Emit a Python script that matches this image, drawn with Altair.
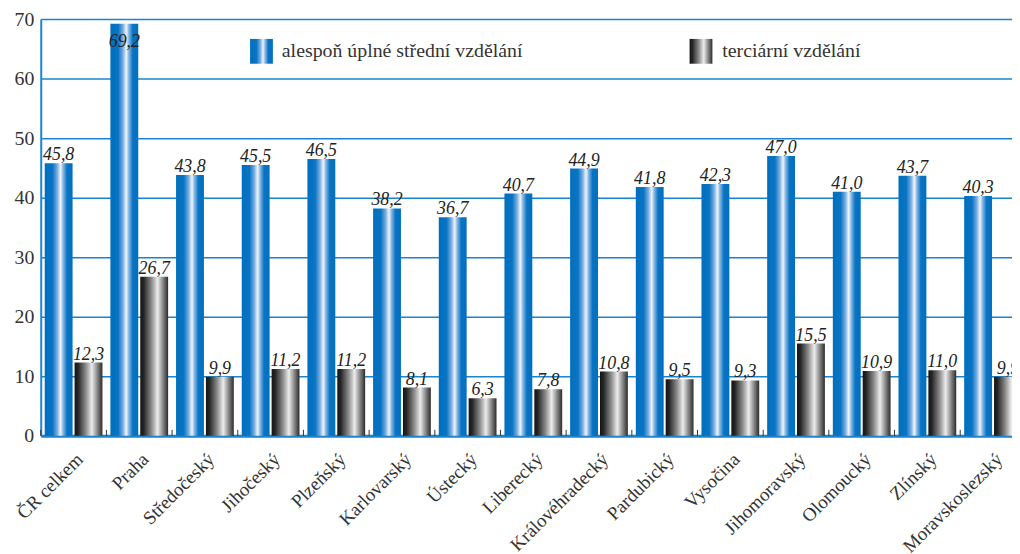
import altair as alt
import pandas as pd

regions = ["ČR celkem", "Praha", "Středočeský", "Jihočeský", "Plzeňský", "Karlovarský",
           "Ústecký", "Liberecký", "Královéhradecký", "Pardubický", "Vysočina",
           "Jihomoravský", "Olomoucký", "Zlínský", "Moravskoslezský"]
secondary = [45.8, 69.2, 43.8, 45.5, 46.5, 38.2, 36.7, 40.7, 44.9, 41.8, 42.3, 47.0, 41.0, 43.7, 40.3]
tertiary = [12.3, 26.7, 9.9, 11.2, 11.2, 8.1, 6.3, 7.8, 10.8, 9.5, 9.3, 15.5, 10.9, 11.0, 9.9]
series_names = ["alespoň úplné střední vzdělání", "terciární vzdělání"]
y_ticks = [0, 10, 20, 30, 40, 50, 60, 70]

rows = []
for r, a, b in zip(regions, secondary, tertiary):
    rows.append({"region": r, "series": "A", "value": a, "label": f"{a:.1f}".replace(".", ",")})
    rows.append({"region": r, "series": "B", "value": b, "label": f"{b:.1f}".replace(".", ",")})
df = pd.DataFrame(rows)

BLUE = "#1b84cf"
SERIF = "Liberation Serif"
NARROW = "Liberation Sans Narrow"

blue_grad = {"gradient": "linear", "x1": 0, "x2": 1, "y1": 0, "y2": 0,
             "stops": [{"offset": 0, "color": "#006fbf"},
                       {"offset": 0.28, "color": "#0a74c3"},
                       {"offset": 0.45, "color": "#78ade0"},
                       {"offset": 0.57, "color": "#f0f5fb"},
                       {"offset": 0.66, "color": "#86b8e5"},
                       {"offset": 0.8, "color": "#0a74c3"},
                       {"offset": 1, "color": "#006fbf"}]}
gray_grad = {"gradient": "linear", "x1": 0, "x2": 1, "y1": 0, "y2": 0,
             "stops": [{"offset": 0, "color": "#151515"},
                       {"offset": 0.12, "color": "#242424"},
                       {"offset": 0.4, "color": "#8a8a8a"},
                       {"offset": 0.62, "color": "#ececec"},
                       {"offset": 0.82, "color": "#858585"},
                       {"offset": 1, "color": "#2b2b2b"}]}

x_enc = alt.X("region:N", sort=regions,
              scale=alt.Scale(paddingInner=0, paddingOuter=0, range=[0, 993]),
              axis=alt.Axis(title=None, labelAngle=-45, labelFont=SERIF, labelFontSize=19,
                            labelColor="#333333", ticks=False, domainColor=BLUE,
                            domainWidth=3, labelPadding=14, labelOverlap=False))
xo_enc = alt.XOffset("series:N", scale=alt.Scale(domain=["A", "B"], paddingInner=0.067,
                                                  paddingOuter=0.133))
y_enc = alt.Y("value:Q", scale=alt.Scale(domain=[0, 70], nice=False),
              axis=alt.Axis(title=None, values=y_ticks, labelFont=SERIF, labelFontSize=20,
                            labelColor="#333333", ticks=False, labelPadding=7,
                            domainColor=BLUE, domainWidth=2, gridColor=BLUE,
                            gridWidth=1.5))

base = alt.Chart(df)

bars_a = base.transform_filter(alt.datum.series == "A").mark_bar(color=blue_grad).encode(
    x=x_enc, xOffset=xo_enc, y=y_enc)
bars_b = base.transform_filter(alt.datum.series == "B").mark_bar(color=gray_grad).encode(
    x=x_enc, xOffset=xo_enc, y=y_enc)

labels = base.transform_calculate(
    ly="datum.value > 66 ? datum.value - 4.4 : datum.value"
).mark_text(font=NARROW, fontSize=18, fontStyle="italic", color="#222222",
            baseline="alphabetic", dy=-3).encode(
    x=x_enc, xOffset=xo_enc, y=alt.Y("ly:Q"), text="label:N")

ticks = alt.Chart(pd.DataFrame({"region": regions, "t0": 0, "t1": 1})).mark_rule(
    color="#333333", strokeWidth=1).encode(
    x=alt.X("region:N", sort=regions, bandPosition=0), y="t0:Q", y2="t1")

one = alt.Data(values=[{"a": 1}])
leg_a = alt.Chart(one).mark_rect(color=blue_grad).encode(
    x=alt.value(211), x2=alt.value(234), y=alt.value(20), y2=alt.value(45))
leg_b = alt.Chart(one).mark_rect(color=gray_grad).encode(
    x=alt.value(654), x2=alt.value(677), y=alt.value(20), y2=alt.value(45))
leg_ta = alt.Chart(one).mark_text(font=SERIF, fontSize=20, color="#333333", align="left",
                                  baseline="middle", text=series_names[0]).encode(
    x=alt.value(243), y=alt.value(32))
leg_tb = alt.Chart(one).mark_text(font=SERIF, fontSize=20, color="#333333", align="left",
                                  baseline="middle", text=series_names[1]).encode(
    x=alt.value(687), y=alt.value(32))

chart = alt.layer(bars_a, bars_b, labels, ticks, leg_a, leg_b, leg_ta, leg_tb).properties(
    width=979, height=420,
    autosize=alt.AutoSizeParams(type="none"),
    padding={"left": 33, "top": 9, "right": 0, "bottom": 117},
    background="white"
).configure_view(strokeWidth=0)

chart.save("out.html", embed_options={"renderer": "svg", "actions": False})
